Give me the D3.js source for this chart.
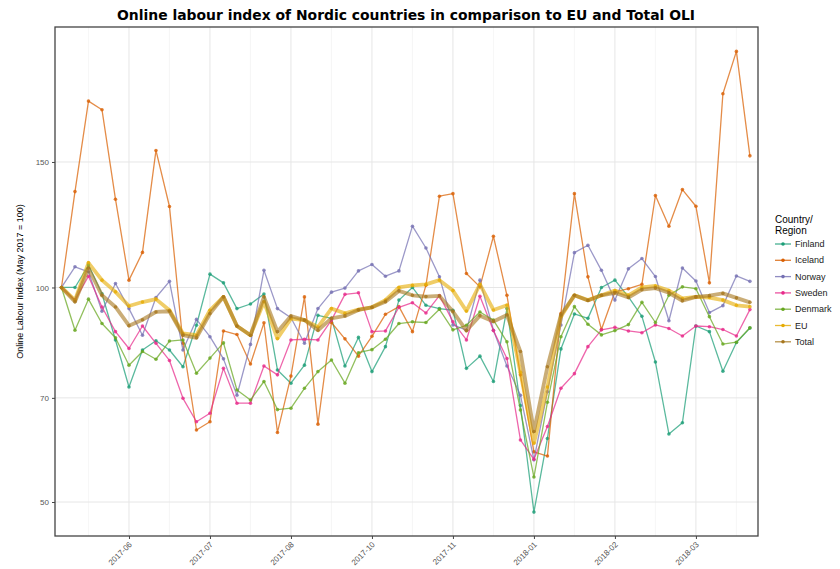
<!DOCTYPE html>
<html>
<head>
<meta charset="utf-8">
<script src="https://cdn.jsdelivr.net/npm/d3@7"></script>
<style>
  body { margin: 0; background: #fff; }
  svg { font-family: "Liberation Sans", Arial, sans-serif; }
</style>
</head>
<body>
<svg id="chart"></svg>
<script>
// Weekly observations, index 0 = first week of May 2017
const weeks = d3.range(52);

// Tick labels on the x axis and the week they sit on
const tickWeeks = [5, 11, 17, 23, 29, 35, 41, 47];
const tickLabels = ["2017-06", "2017-07", "2017-08", "2017-10", "2017-11", "2018-01", "2018-02", "2018-03"];
const minorWeeks = [2, 8, 14, 20, 26, 32, 38, 44, 50];

// Y axis ticks (log scale)
const yTicks = [50, 70, 100, 150];

// Series values
const finland = [100, 100, 107.5, 98, 84.4, 72.5, 81.7, 84.2, 81.7, 77.4, 88.5, 104.4, 101.5, 93.4, 94.8, 97.9, 76.6, 73.4, 77.8, 91.4, 90.5, 77.6, 85.1, 76.2, 82.6, 96, 100, 94.4, 93.4, 92.9, 77, 80.1, 73.8, 93.4, 68.3, 48.4, 61.4, 82, 91.8, 90.5, 100, 102.4, 97, 91.1, 78.6, 62.3, 64.6, 88.3, 86.7, 76.3, 83.7, 87.7];
const iceland = [100, 136.3, 182.6, 177.6, 133, 102.4, 112, 155.7, 129.9, 83.5, 63.1, 64.8, 86.9, 85.9, 78.1, 89.2, 62.6, 75.1, 97, 64.3, 89.3, 84.7, 80.1, 85.4, 91.7, 94, 86.7, 100.7, 134.3, 135.4, 104.6, 100.2, 118, 97.5, 75.4, 58.8, 58, 91.9, 135.4, 103.5, 87.3, 98.6, 99.6, 101, 134.6, 121.9, 137.2, 130, 101.5, 187, 214.4, 153];
const norway = [100, 106.9, 105.2, 92.6, 101.3, 93.4, 85.7, 96.8, 102, 81.7, 90.2, 85.3, 79.4, 70.6, 83.2, 105.7, 93.4, 90.7, 83.5, 93.4, 98.5, 99.8, 105.5, 107.7, 103.7, 105.5, 121.9, 113.6, 103.5, 88.6, 87.1, 102.4, 87.1, 77.6, 70.6, 57.3, 71.4, 88.6, 111.9, 114.6, 105.7, 96, 106.2, 109.8, 103.6, 89.8, 106.5, 102.1, 92.2, 94.3, 103.8, 102];
const sweden = [100, 96, 103.7, 93.9, 86.7, 82.1, 88.3, 83.5, 79, 69.9, 64.8, 66.6, 77, 68.8, 68.8, 77.6, 75.4, 84.4, 84.6, 84.4, 90, 97.8, 98.3, 86.7, 86.9, 93.8, 95.2, 92.1, 97.4, 89.5, 84.4, 97.2, 87, 79.5, 61.1, 57.4, 63.8, 72.2, 75.7, 82.6, 87.2, 87.9, 86.9, 86.4, 88.6, 87.6, 85.5, 88.3, 88.1, 87.3, 85.5, 93.1];
const denmark = [100, 87.1, 96.3, 89, 85, 77.8, 81.3, 79.3, 84.1, 84.4, 75.8, 79.6, 83.6, 71.8, 69.5, 73.8, 67.4, 67.7, 72.2, 76.2, 79.1, 73.4, 81, 81.8, 84.6, 89, 89.5, 89.3, 93.2, 87.2, 88.5, 92.4, 90, 83.9, 67.3, 54.2, 69, 85.3, 94, 88.8, 85.8, 87, 88.7, 95.3, 89.3, 97.5, 100.2, 99.6, 91, 83.3, 83.8, 87.8];
const eu = [100, 96, 108.3, 102.4, 98.6, 94.2, 95.4, 96.3, 92.9, 86.2, 85.7, 92.9, 97, 88.3, 85.7, 95.5, 84.8, 90.4, 90, 88, 93.4, 92, 93.1, 93.8, 96, 100, 100.7, 101, 102.4, 99, 92.7, 101, 93, 94.4, 76, 60.5, 72.5, 91, 97.5, 96, 97.5, 99, 97.5, 100, 100.5, 99, 96.5, 97, 96.8, 96, 94.4, 94];
const total = [100, 95.5, 106.4, 97.5, 93.9, 88.4, 90.1, 92.4, 92.6, 85.7, 85, 91.9, 97, 88.3, 85.7, 97, 86.7, 91.2, 90, 87.1, 90.5, 91.2, 93, 93.8, 95.5, 98.9, 97.5, 97.1, 97.3, 92.5, 87, 91.3, 89.6, 91.5, 81.3, 62.8, 77.4, 91.5, 97.5, 95.9, 97.5, 98.3, 96.8, 99.3, 99.8, 98.3, 95.8, 97, 97.4, 98.1, 96.7, 95.3];

const seriesNames = ["Finland", "Iceland", "Norway", "Sweden", "Denmark", "EU", "Total"];
const seriesValues = [finland, iceland, norway, sweden, denmark, eu, total];
const colors = ["#1b9e77", "#d95f02", "#7570b3", "#e7298a", "#66a61e", "#e6ab02", "#a6761d"];

// SVG dimensions and panel edges
const width = 840, height = 569;
const panelLeft = 55, panelRight = 758, panelTop = 27, panelBottom = 536;

const svg = d3.select('#chart')
    .attr('width', width)
    .attr('height', height);

const xScale = d3.scaleLinear()
    .domain([-0.48, 51.6])
    .range([panelLeft, panelRight]);

const yScale = d3.scaleLog()
    .domain([44.8, 232])
    .range([panelBottom, panelTop]);

// Grid lines
const grid = svg.append('g');
grid.selectAll('.vminor')
    .data(minorWeeks)
    .enter()
    .append('line')
    .attr('x1', d => xScale(d)).attr('x2', d => xScale(d))
    .attr('y1', panelTop).attr('y2', panelBottom)
    .attr('stroke', '#f0f0f0').attr('stroke-width', 0.6);
grid.selectAll('.vmajor')
    .data(tickWeeks)
    .enter()
    .append('line')
    .attr('x1', d => xScale(d)).attr('x2', d => xScale(d))
    .attr('y1', panelTop).attr('y2', panelBottom)
    .attr('stroke', '#e6e6e6').attr('stroke-width', 1);
grid.selectAll('.hmajor')
    .data(yTicks)
    .enter()
    .append('line')
    .attr('x1', panelLeft).attr('x2', panelRight)
    .attr('y1', d => yScale(d)).attr('y2', d => yScale(d))
    .attr('stroke', '#e6e6e6').attr('stroke-width', 1);

// Lines and points
const line = d3.line()
    .x((d, i) => xScale(weeks[i]))
    .y(d => yScale(d));

seriesValues.forEach((vals, k) => {
    const thick = seriesNames[k] === 'EU' || seriesNames[k] === 'Total';
    const g = svg.append('g');
    g.append('path')
        .datum(vals)
        .attr('d', line)
        .attr('fill', 'none')
        .attr('stroke', colors[k])
        .attr('stroke-width', thick ? 3.8 : 1.3)
        .attr('stroke-linejoin', 'round')
        .attr('opacity', thick ? 0.6 : 0.72);
    g.selectAll('circle')
        .data(vals)
        .enter()
        .append('circle')
        .attr('cx', (d, i) => xScale(weeks[i]))
        .attr('cy', d => yScale(d))
        .attr('r', 1.8)
        .attr('fill', colors[k])
        .attr('opacity', 0.8);
});

// Panel border
svg.append('rect')
    .attr('x', panelLeft).attr('y', panelTop)
    .attr('width', panelRight - panelLeft).attr('height', panelBottom - panelTop)
    .attr('fill', 'none')
    .attr('stroke', '#444')
    .attr('stroke-width', 1.3);

// Axes
const xAxis = d3.axisBottom(xScale)
    .tickValues(tickWeeks)
    .tickFormat((d, i) => tickLabels[i])
    .tickSize(3);
const gx = svg.append('g')
    .attr('transform', `translate(0, ${panelBottom})`)
    .call(xAxis);
gx.select('.domain').remove();
gx.selectAll('line').attr('stroke', '#444');
gx.selectAll('text')
    .attr('fill', '#555')
    .attr('font-size', 8)
    .attr('text-anchor', 'end')
    .attr('x', 0).attr('y', 0).attr('dy', 0)
    .attr('transform', 'translate(3,9) rotate(-45)');

const yAxis = d3.axisLeft(yScale)
    .tickValues(yTicks)
    .tickFormat(d3.format('d'))
    .tickSize(3);
const gy = svg.append('g')
    .attr('transform', `translate(${panelLeft}, 0)`)
    .call(yAxis);
gy.select('.domain').remove();
gy.selectAll('line').attr('stroke', '#444');
gy.selectAll('text')
    .attr('fill', '#555')
    .attr('font-size', 8);

// Titles
svg.append('text')
    .attr('x', 406).attr('y', 20)
    .attr('text-anchor', 'middle')
    .attr('font-family', '"DejaVu Sans", sans-serif')
    .attr('font-size', 14)
    .attr('font-weight', 'bold')
    .attr('textLength', 578)
    .attr('lengthAdjust', 'spacingAndGlyphs')
    .text('Online labour index of Nordic countries in comparison to EU and Total OLI');

svg.append('text')
    .attr('transform', `translate(23, ${(panelTop + panelBottom) / 2}) rotate(-90)`)
    .attr('text-anchor', 'middle')
    .attr('font-size', 9)
    .text('Online Labour Index (May 2017 = 100)');

// Legend
const legend = svg.append('g').attr('transform', 'translate(775, 0)');
legend.append('text').attr('x', 0).attr('y', 223).attr('font-size', 10).text('Country/');
legend.append('text').attr('x', 0).attr('y', 234).attr('font-size', 10).text('Region');

const items = legend.selectAll('.item')
    .data(seriesNames)
    .enter()
    .append('g')
    .attr('transform', (d, i) => `translate(0, ${244 + i * 16.3})`);
items.append('line')
    .attr('x1', 0).attr('x2', 16)
    .attr('stroke', (d, i) => colors[i])
    .attr('stroke-width', 1.3)
    .attr('opacity', 0.8);
items.append('circle')
    .attr('cx', 8).attr('r', 1.8)
    .attr('fill', (d, i) => colors[i]);
items.append('text')
    .attr('x', 20).attr('y', 3)
    .attr('font-size', 9)
    .attr('fill', '#222')
    .text(d => d);
</script>
</body>
</html>
